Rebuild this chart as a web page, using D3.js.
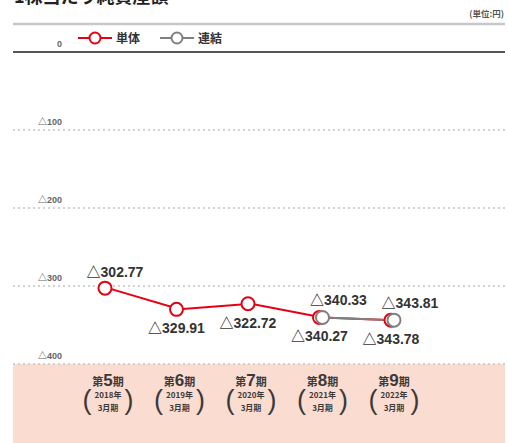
<!DOCTYPE html>
<html>
<head>
<meta charset="utf-8">
<script src="https://cdn.jsdelivr.net/npm/d3@7"></script>
<style>
  body { margin: 0; background: #fff; }
  svg { display: block; font-family: "Liberation Sans", Arial, "Noto Sans CJK JP", sans-serif; }
</style>
</head>
<body>
<script>
// Data
const periods = ["5", "6", "7", "8", "9"]
const years = ["2018年", "2019年", "2020年", "2021年", "2022年"]
const tanTai = [302.77, 329.91, 322.72, 340.27, 343.78]     // 単体
const renKetsu = [null, null, null, 340.33, 343.81]          // 連結
const tanTaiLabelSide = ["above", "below", "below", "below", "below"]
const yTicks = [0, 100, 200, 300, 400]

const w = 508
const h = 443
const left = 13
const right = 505

const red = "#e60012"
const grey = "#808080"
const ink = "#333"

const svg = d3.select("body")
              .append("svg")
              .attr("width", w)
              .attr("height", h)

const x = d3.scalePoint()
            .domain(periods)
            .range([108, 394])

const y = d3.scaleLinear()
            .domain([0, 400])
            .range([52, 364])

// Pink band under the chart for the period labels
svg.append("rect")
   .attr("x", left)
   .attr("y", y(400))
   .attr("width", right - left)
   .attr("height", h - y(400))
   .attr("fill", "#fbdcd0")

// Title (only its lower edge shows at the top of the picture)
svg.append("text")
   .attr("x", 14)
   .attr("y", 3)
   .attr("font-size", 18)
   .attr("font-weight", "bold")
   .attr("fill", "#222")
   .attr("font-family", "'Noto Sans CJK JP', sans-serif")
   .text("1株当たり純資産額")

svg.append("text")
   .attr("x", 504)
   .attr("y", 17)
   .attr("text-anchor", "end")
   .attr("font-size", 8.5)
   .attr("font-weight", "bold")
   .attr("fill", "#555")
   .attr("font-family", "'Noto Sans CJK JP', sans-serif")
   .text("(単位:円)")

svg.append("line")
   .attr("x1", left).attr("x2", right)
   .attr("y1", 24).attr("y2", 24)
   .attr("stroke", "#c8c8c8")
   .attr("stroke-width", 2.5)

// Grid lines and tick labels
const grid = svg.append("g")
grid.selectAll("line")
    .data(yTicks)
    .enter()
    .append("line")
    .attr("x1", left).attr("x2", right)
    .attr("y1", d => y(d)).attr("y2", d => y(d))
    .attr("stroke", d => d === 0 ? "#555" : "#c4c4c4")
    .attr("stroke-width", d => d === 0 ? 2 : 1.5)
    .attr("stroke-dasharray", d => d === 0 ? null : "2,3")

grid.selectAll("text")
    .data(yTicks)
    .enter()
    .append("text")
    .attr("x", 62)
    .attr("y", d => y(d) - 5)
    .attr("text-anchor", "end")
    .attr("font-size", 9)
    .attr("font-weight", "bold")
    .attr("fill", "#666")
    .text(d => d === 0 ? "0" : "△" + d)

// Legend
const legend = svg.append("g").attr("transform", "translate(0, 38)")
const legendItems = [
  { name: "単体", color: red, x0: 78 },
  { name: "連結", color: grey, x0: 160 }
]
const li = legend.selectAll("g")
                 .data(legendItems)
                 .enter()
                 .append("g")
                 .attr("transform", d => `translate(${d.x0}, 0)`)
li.append("line")
  .attr("x1", 0).attr("x2", 34)
  .attr("stroke", d => d.color)
  .attr("stroke-width", 2)
li.append("circle")
  .attr("cx", 17)
  .attr("r", 5.5)
  .attr("fill", "#fff")
  .attr("stroke", d => d.color)
  .attr("stroke-width", 2)
li.append("text")
  .attr("x", 38)
  .attr("y", 4.5)
  .attr("font-size", 12)
  .attr("font-weight", "bold")
  .attr("fill", ink)
  .attr("font-family", "'Noto Sans CJK JP', sans-serif")
  .text(d => d.name)

// Lines
const line = d3.line()
               .defined(d => d.v !== null)
               .x(d => x(d.p))
               .y(d => y(d.v))

const tanData = periods.map((p, i) => ({ p: p, v: tanTai[i], side: tanTaiLabelSide[i] }))
const renData = periods.map((p, i) => ({ p: p, v: renKetsu[i] }))

svg.append("path")
   .datum(tanData)
   .attr("d", line)
   .attr("fill", "none")
   .attr("stroke", red)
   .attr("stroke-width", 2)

svg.append("path")
   .datum(renData)
   .attr("d", line)
   .attr("fill", "none")
   .attr("stroke", grey)
   .attr("stroke-width", 2)

svg.append("g")
   .selectAll("circle")
   .data(tanData)
   .enter()
   .append("circle")
   .attr("cx", d => x(d.p) - 3)
   .attr("cy", d => y(d.v))
   .attr("r", 6.5)
   .attr("fill", "#fff")
   .attr("stroke", red)
   .attr("stroke-width", 2)

svg.append("g")
   .selectAll("circle")
   .data(renData.filter(d => d.v !== null))
   .enter()
   .append("circle")
   .attr("cx", d => x(d.p))
   .attr("cy", d => y(d.v))
   .attr("r", 6.5)
   .attr("fill", "#fff")
   .attr("stroke", grey)
   .attr("stroke-width", 2)

// Value labels
const fmt = d3.format(".2f")
svg.append("g")
   .selectAll("text")
   .data(tanData)
   .enter()
   .append("text")
   .attr("x", d => x(d.p) + (d.side === "above" ? 7 : -3))
   .attr("y", d => y(d.v) + (d.side === "above" ? -11 : 24))
   .attr("text-anchor", "middle")
   .attr("font-size", 14)
   .attr("font-weight", "bold")
   .attr("fill", ink)
   .text(d => "△" + fmt(d.v))

svg.append("g")
   .selectAll("text")
   .data(renData.filter(d => d.v !== null))
   .enter()
   .append("text")
   .attr("x", d => x(d.p) + 16)
   .attr("y", d => y(d.v) - 12)
   .attr("text-anchor", "middle")
   .attr("font-size", 14)
   .attr("font-weight", "bold")
   .attr("fill", ink)
   .text(d => "△" + fmt(d.v))

// Period labels in the pink band
const cat = svg.append("g")
               .selectAll("g")
               .data(periods)
               .enter()
               .append("g")
               .attr("transform", p => `translate(${x(p)}, 0)`)
               .attr("fill", "#3a3a3a")
               .attr("font-weight", "bold")
               .attr("text-anchor", "middle")

const head = cat.append("text").attr("y", 386)
head.append("tspan").attr("font-size", 11).attr("font-family", "'Noto Sans CJK JP', sans-serif").text("第")
head.append("tspan").attr("font-size", 17).text(p => p)
head.append("tspan").attr("font-size", 11).attr("font-family", "'Noto Sans CJK JP', sans-serif").text("期")

cat.append("text")
   .attr("y", 398)
   .attr("font-size", 8)
   .attr("font-family", "'Noto Sans CJK JP', sans-serif")
   .text((p, i) => years[i])

cat.append("text")
   .attr("y", 411)
   .attr("font-size", 8)
   .attr("font-family", "'Noto Sans CJK JP', sans-serif")
   .text("3月期")

cat.append("text")
   .attr("x", -21)
   .attr("y", 409)
   .attr("font-size", 27)
   .attr("font-weight", "normal")
   .text("(")

cat.append("text")
   .attr("x", 21)
   .attr("y", 409)
   .attr("font-size", 27)
   .attr("font-weight", "normal")
   .text(")")
</script>
</body>
</html>
